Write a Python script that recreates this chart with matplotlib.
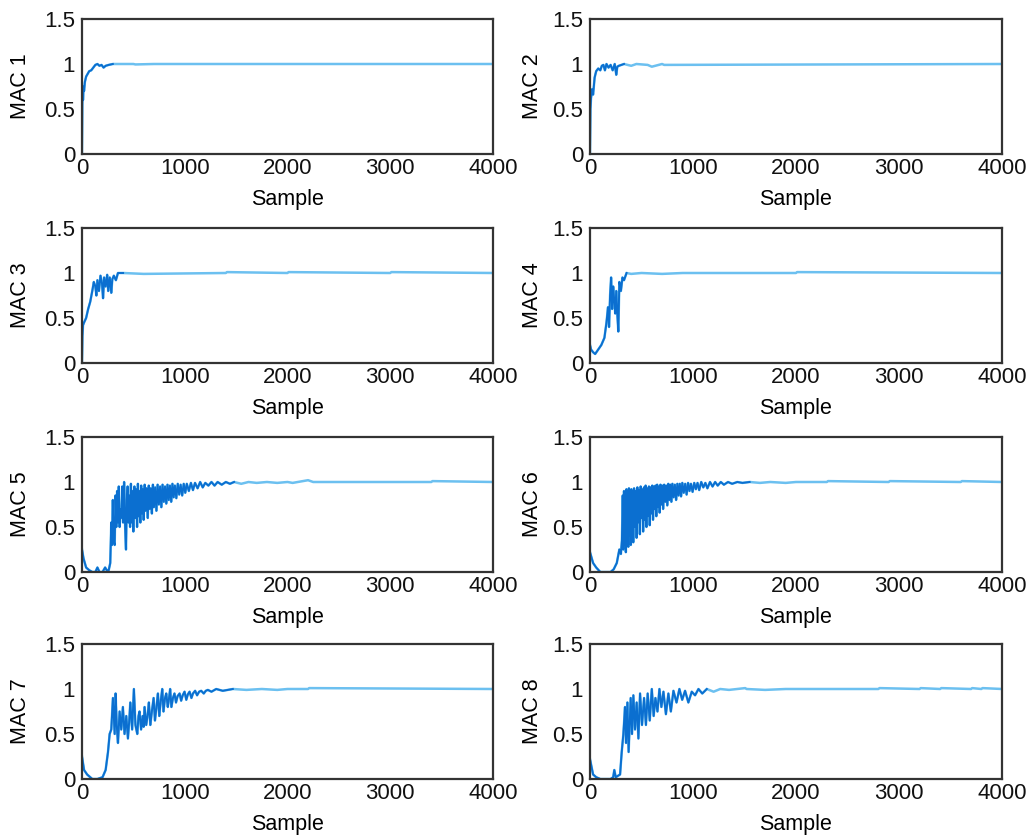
import numpy as np
import matplotlib
matplotlib.use('Agg')
import matplotlib.pyplot as plt

plt.rcParams['font.family'] = ['Liberation Sans', 'DejaVu Sans']

# MAC value per sample, read as (sample, value) pairs
x1 = [0, 3, 6, 10, 15, 20, 28, 40, 55, 70, 90, 110, 130, 150, 170, 190, 210, 230, 260, 300, 500, 520, 700, 4000]
y1 = [0.0, 0.55, 0.72, 0.6, 0.75, 0.7, 0.8, 0.86, 0.89, 0.92, 0.93, 0.96, 0.99, 1.0, 0.98, 0.99, 0.96, 0.98, 0.99, 1.0, 1.0, 0.995, 1.0, 1.0]

x2 = [0, 4, 10, 20, 30, 45, 60, 80, 100, 115, 130, 145, 160, 180, 200, 220, 240, 255, 265, 280, 330, 400, 450, 560, 600, 700, 720, 4000]
y2 = [0.0, 0.5, 0.62, 0.72, 0.66, 0.85, 0.92, 0.95, 0.93, 0.98, 0.99, 0.93, 1.0, 0.96, 0.99, 0.93, 1.0, 0.88, 0.97, 0.98, 1.0, 0.98, 1.0, 0.99, 0.97, 1.0, 0.99, 1.0]

x3 = [0, 4, 10, 20, 40, 60, 80, 100, 115, 130, 140, 150, 165, 180, 195, 205, 215, 230, 245, 255, 270, 285, 295, 310, 330, 350, 400, 600, 1400, 1410, 2000, 2010, 3000, 3010, 4000]
y3 = [0.0, 0.3, 0.42, 0.45, 0.5, 0.6, 0.68, 0.8, 0.9, 0.85, 0.75, 0.92, 0.8, 0.97, 0.88, 0.72, 0.95, 0.85, 0.98, 0.8, 0.95, 0.78, 0.93, 0.97, 0.92, 1.0, 1.0, 0.99, 1.0, 1.01, 1.0, 1.01, 1.0, 1.01, 1.0]

x4 = [0, 10, 30, 50, 80, 110, 140, 160, 175, 185, 195, 205, 215, 225, 235, 245, 255, 265, 275, 285, 300, 315, 330, 355, 400, 500, 700, 900, 1100, 2000, 2010, 4000]
y4 = [0.2, 0.15, 0.12, 0.1, 0.15, 0.2, 0.28, 0.45, 0.62, 0.4, 0.75, 0.95, 0.6, 0.85, 0.7, 0.55, 0.8, 0.55, 0.35, 0.9, 0.8, 0.95, 0.92, 1.0, 0.99, 1.0, 0.99, 1.0, 1.0, 1.0, 1.01, 1.0]

x5 = [0, 15, 40, 70, 100, 130, 150, 170, 200, 225, 240, 260, 275, 285, 292, 300, 308, 318, 326, 334, 342, 350, 358, 366, 374, 382, 392, 400, 410, 420, 428, 436, 444, 452, 460, 468, 476, 484, 492, 500,
      510, 520, 528, 536, 544, 552, 560, 568, 576, 584, 592, 600, 610, 620, 630, 640, 650, 660, 670, 680, 690, 700, 712, 724, 736, 748, 760, 772, 784, 796,
      808, 820, 832, 844, 856, 868, 880, 892, 904, 918, 932, 946, 960, 975, 990, 1005, 1020, 1040, 1060, 1080, 1100, 1125, 1150, 1175, 1200, 1230, 1260, 1290, 1320, 1360,
      1400, 1440, 1480, 1550, 1620, 1700, 1800, 1900, 2000, 2050, 2100, 2200, 2250, 3400, 3410, 4000]
y5 = [0.25, 0.15, 0.05, 0.02, 0.0, 0.0, 0.05, 0.0, 0.0, 0.05, 0.02, 0.02, 0.1, 0.55, 0.3, 0.8, 0.35, 0.3, 0.85, 0.5, 0.9, 0.55, 0.95, 0.5, 0.7, 0.6, 0.95, 0.55, 1.0, 0.5, 0.25, 0.8, 0.95, 0.55, 0.85, 0.5, 0.98, 0.55, 0.9, 0.45,
      0.95, 0.6, 0.92, 0.5, 0.98, 0.62, 0.9, 0.55, 0.96, 0.65, 0.92, 0.58, 0.97, 0.68, 0.93, 0.6, 0.96, 0.7, 0.93, 0.65, 0.97, 0.72, 0.94, 0.68, 0.97, 0.75, 0.95, 0.72, 0.97, 0.78,
      0.95, 0.76, 0.97, 0.8, 0.96, 0.78, 0.98, 0.83, 0.96, 0.82, 0.98, 0.86, 0.97, 0.85, 0.98, 0.88, 0.98, 0.9, 0.99, 0.91, 0.99, 0.93, 1.0, 0.94, 0.99, 0.96, 1.0, 0.96, 1.0, 0.97,
      1.0, 0.98, 1.0, 0.98, 1.0, 0.99, 1.0, 0.99, 1.0, 0.99, 1.0, 1.02, 1.0, 1.0, 1.01, 1.0]

x6 = [0, 30, 60, 100, 150, 200, 230, 260, 285, 300, 310, 318, 324, 330, 336, 342, 348, 354, 360, 366, 372, 378, 384, 390, 396, 402, 408, 414, 420, 428, 436, 444, 452, 460, 468, 476, 484, 492, 500,
      508, 516, 524, 532, 540, 548, 556, 564, 572, 580, 588, 596, 604, 612, 620, 628, 636, 644, 652, 660, 668, 676, 684, 692, 700, 710, 720, 730, 740, 750, 760, 770, 780, 790, 800,
      812, 824, 836, 848, 860, 872, 884, 896, 910, 924, 938, 952, 966, 980, 996, 1012, 1028, 1044, 1060, 1080, 1100, 1120, 1140, 1165, 1190, 1215, 1240, 1270, 1300, 1340, 1380,
      1430, 1480, 1550, 1650, 1750, 1900, 2000, 2300, 2310, 2900, 2910, 3600, 3610, 4000]
y6 = [0.22, 0.1, 0.05, 0.0, 0.0, 0.0, 0.03, 0.1, 0.25, 0.2, 0.35, 0.85, 0.25, 0.9, 0.3, 0.88, 0.22, 0.92, 0.35, 0.9, 0.28, 0.93, 0.4, 0.88, 0.3, 0.92, 0.45, 0.9, 0.33, 0.93, 0.5, 0.9, 0.38, 0.94, 0.55, 0.91, 0.42, 0.95, 0.6,
      0.92, 0.45, 0.94, 0.58, 0.96, 0.5, 0.93, 0.62, 0.95, 0.52, 0.94, 0.65, 0.96, 0.58, 0.95, 0.7, 0.96, 0.62, 0.97, 0.72, 0.95, 0.66, 0.97, 0.75, 0.96, 0.7, 0.97, 0.78, 0.96, 0.74, 0.98, 0.8, 0.97, 0.78, 0.98,
      0.83, 0.97, 0.8, 0.98, 0.85, 0.98, 0.84, 0.99, 0.88, 0.98, 0.86, 0.99, 0.9, 0.98, 0.89, 0.99, 0.92, 0.99, 0.91, 1.0, 0.94, 0.99, 0.93, 1.0, 0.95, 1.0, 0.96, 1.0, 0.97, 1.0, 0.98,
      1.0, 0.99, 1.0, 0.99, 1.0, 0.99, 1.0, 1.0, 1.01, 1.0, 1.01, 1.0, 1.01, 1.0]

x7 = [0, 20, 50, 80, 100, 150, 200, 230, 253, 269, 285, 301, 318, 327, 338, 350, 366, 382, 398, 414, 431, 447, 460, 470, 488, 505, 520, 538, 550, 560, 575, 590, 600, 609, 625, 640, 651, 665, 680, 697,
      710, 725, 739, 752, 765, 781, 793, 808, 820, 835, 845, 858, 870, 885, 900, 915, 930, 950, 965, 980, 998, 1015, 1030, 1047, 1065, 1080, 1101, 1120, 1140, 1160, 1185, 1205, 1225, 1260, 1306, 1370, 1468,
      1600, 1750, 1900, 2000, 2200, 2210, 4000]
y7 = [0.25, 0.1, 0.05, 0.02, 0.0, 0.0, 0.02, 0.1, 0.3, 0.5, 0.55, 0.9, 0.5, 0.95, 0.6, 0.4, 0.75, 0.55, 0.8, 0.5, 0.7, 0.45, 0.65, 0.85, 0.55, 1.0, 0.6, 0.5, 0.7, 0.75, 0.55, 0.7, 0.58, 0.8, 0.6, 0.72, 0.85, 0.6, 0.75, 0.9,
      0.65, 0.8, 0.95, 0.7, 0.85, 1.0, 0.75, 0.9, 0.95, 0.8, 0.88, 1.0, 0.8, 0.9, 0.95, 0.85, 0.92, 0.95, 0.87, 0.93, 0.97, 0.88, 0.94, 0.97, 0.9, 0.95, 0.98, 0.93, 0.97, 0.98, 0.95, 0.98, 0.99, 0.97, 1.0, 0.98, 1.0,
      0.99, 1.0, 0.99, 1.0, 1.0, 1.01, 1.0]

x8 = [0, 30, 60, 100, 150, 200, 225, 236, 250, 292, 308, 324, 340, 350, 363, 375, 395, 408, 421, 437, 453, 470, 486, 505, 525, 543, 560, 580, 600, 618, 635, 655, 674, 693, 713, 737, 761, 785, 810, 840,
      868, 895, 923, 955, 988, 1020, 1053, 1090, 1134, 1200, 1264, 1350, 1507, 1520, 1700, 1900, 2800, 2810, 3200, 3210, 3400, 3410, 3700, 3710, 3800, 3810, 4000]
y8 = [0.22, 0.05, 0.02, 0.0, 0.0, 0.0, 0.02, 0.1, 0.02, 0.05, 0.3, 0.5, 0.8, 0.4, 0.85, 0.3, 0.9, 0.5, 0.93, 0.55, 0.85, 0.45, 0.95, 0.6, 0.9, 0.6, 0.95, 0.65, 1.0, 0.7, 0.9, 0.75, 1.0, 0.8, 0.97, 0.72, 0.95, 0.75, 0.98, 0.85,
      1.0, 0.88, 0.98, 0.85, 0.97, 0.93, 1.0, 0.95, 1.0, 0.97, 1.0, 0.99, 1.01, 1.0, 0.99, 1.0, 1.0, 1.01, 1.0, 1.01, 1.0, 1.01, 1.0, 1.01, 1.0, 1.01, 1.0]

series = [(x1, y1), (x2, y2), (x3, y3), (x4, y4), (x5, y5), (x6, y6), (x7, y7), (x8, y8)]
# sample after which each trace is settled at 1
settled = [320, 350, 420, 380, 1500, 1600, 1500, 1150]

W, H = 1026, 836
fig = plt.figure(figsize=(W / 100, H / 100), dpi=100)
col_left = [82, 590]
col_width = [411, 412]
row_top = [19, 228, 437, 644]
ax_h = 135

for i, (xs, ys) in enumerate(series):
    r, c = i // 2, i % 2
    ax = fig.add_axes([col_left[c] / W, 1 - (row_top[r] + ax_h) / H, col_width[c] / W, ax_h / H])
    xs = np.array(xs)
    ys = np.array(ys)
    ax.plot(xs, ys, color='#6cc0f0', lw=1.8)
    m = xs <= settled[i]
    ax.plot(xs[m], ys[m], color='#0b6fd0', lw=1.4)
    ax.set_xlim(0, 4000)
    ax.set_ylim(0, 1.5)
    ax.set_xticks([0, 1000, 2000, 3000, 4000])
    ax.set_yticks([0, 0.5, 1, 1.5])
    ax.set_yticklabels(['0', '0.5', '1', '1.5'])
    ax.tick_params(length=0, labelsize=16, colors='#111111')
    ax.tick_params(axis='y', pad=5)
    ax.tick_params(axis='x', pad=3)
    for s in ax.spines.values():
        s.set_color('#333333')
        s.set_linewidth(1.6)
    ax.set_xlabel('Sample', fontsize=15.5)
    ax.set_ylabel('MAC ' + str(i + 1), fontsize=15.5)
    ax.xaxis.set_label_coords(0.5, -0.26)
    ax.yaxis.set_label_coords(-0.125 if c == 0 else -0.115, 0.5)

fig.savefig('out.png', dpi=100)
